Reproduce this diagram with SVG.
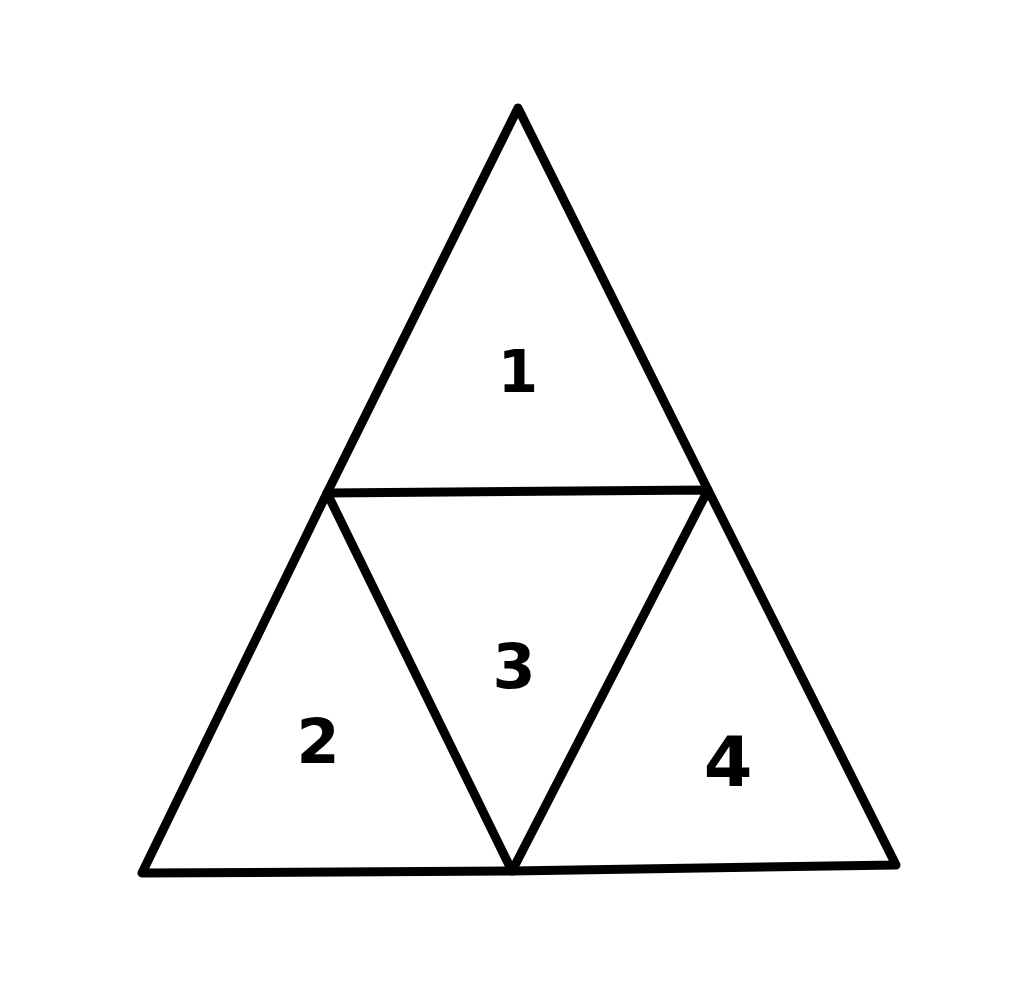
<svg xmlns="http://www.w3.org/2000/svg" width="1015" height="1000" viewBox="0 0 1015 1000">
<style>
.edge{fill:none;stroke:#000;stroke-width:9;stroke-linecap:round;stroke-linejoin:round}
.lbl{font-family:"DejaVu Sans",sans-serif;font-weight:bold;fill:#000;text-anchor:middle}
</style>
<rect width="1015" height="1000" fill="#fff"/>
<g id="connectors">
<path class="edge" d="M518,108 L327,493 L142,873 L512,871 L896,865 L708,490 Z"/>
<path class="edge" d="M327,493 L708,490 L512,871 Z"/>
</g>
<g id="node1"><text class="lbl" x="518" y="392" font-size="58">1</text></g>
<g id="node2"><text class="lbl" x="318" y="763" font-size="62">2</text></g>
<g id="node3"><text class="lbl" x="514" y="688" font-size="62">3</text></g>
<g id="node4"><text class="lbl" x="728" y="786" font-size="70">4</text></g>
</svg>
